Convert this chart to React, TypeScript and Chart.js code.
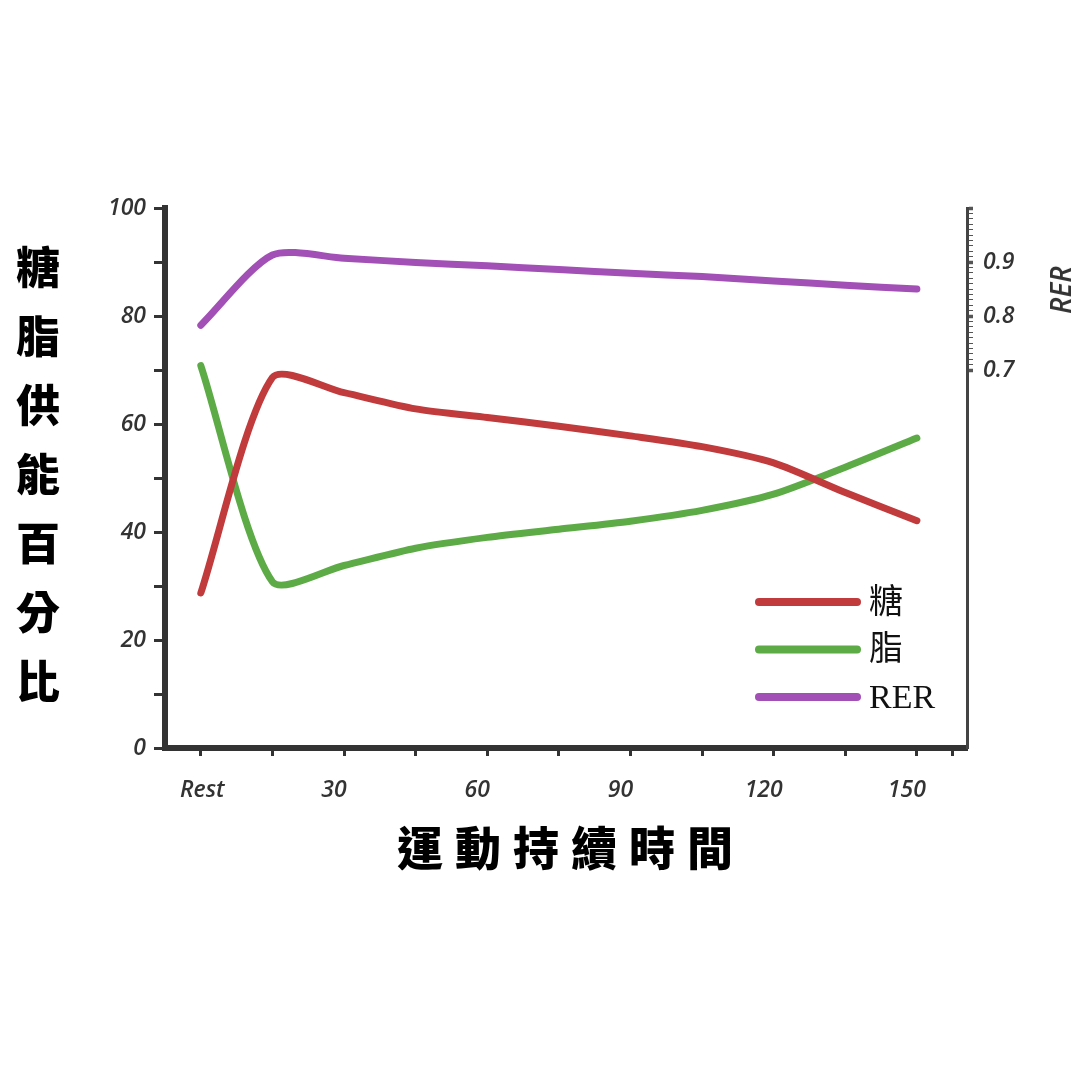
import React, { useEffect, useRef } from "react";
import { Chart, registerables } from "chart.js";

Chart.register(...registerables);

// ---- data ----
const minutes = [0, 15, 30, 45, 60, 75, 90, 105, 120, 135, 150];
const sugar = [28.7, 68.6, 65.8, 62.8, 61.2, 59.6, 57.8, 55.8, 52.8, 47.3, 42.1];
const fat = [70.8, 30.8, 33.8, 37, 39, 40.5, 42, 44, 47, 52, 57.4];
const rer = [0.783, 0.913, 0.907, 0.899, 0.893, 0.886, 0.879, 0.873, 0.865, 0.857, 0.85];
const seriesLabels = ["糖", "脂", "RER"];
const xTickValues = [0, 15, 30, 45, 60, 75, 90, 105, 120, 135, 150, 157.5];
const xTickLabels: Record<number, string> = { 0: "\u2003Rest", 30: "30", 60: "60", 90: "90", 120: "120", 150: "150" };
const leftTickLabels = [0, 20, 40, 60, 80, 100];
const rightTickLabels = [0.7, 0.8, 0.9];

const COLORS = ["#c13a3c", "#5cab46", "#a24fb6"];

const tickFont = { family: "'Open Sans', 'DejaVu Sans', sans-serif", size: 23, style: "italic" as const, weight: "600" as const };

const legendPlugin = {
  id: "insideLegend",
  afterDraw(chart: any) {
    const ctx = chart.ctx;
    ctx.save();
    chart.data.datasets.forEach((ds: any, i: number) => {
      const y = 602 + i * 47.5;
      ctx.strokeStyle = ds.borderColor;
      ctx.lineWidth = 8;
      ctx.lineCap = "round";
      ctx.beginPath();
      ctx.moveTo(759, y);
      ctx.lineTo(857, y);
      ctx.stroke();
      ctx.fillStyle = "#111";
      ctx.font = "34px 'Liberation Serif', 'Noto Sans CJK TC', serif";
      ctx.textBaseline = "middle";
      ctx.textAlign = "left";
      ctx.fillText(ds.label, 869, y + 2);
    });
    ctx.restore();
  },
};

export default function App() {
  const ref = useRef<HTMLCanvasElement | null>(null);
  useEffect(() => {
    if (!ref.current) return;
    const chart = new Chart(ref.current, {
      type: "line",
      data: {
        datasets: [
          {
            label: seriesLabels[0],
            data: minutes.map((m, i) => ({ x: m, y: sugar[i] })),
            borderColor: COLORS[0],
            yAxisID: "y",
          },
          {
            label: seriesLabels[1],
            data: minutes.map((m, i) => ({ x: m, y: fat[i] })),
            borderColor: COLORS[1],
            yAxisID: "y",
          },
          {
            label: seriesLabels[2],
            data: minutes.map((m, i) => ({ x: m, y: rer[i] })),
            borderColor: COLORS[2],
            yAxisID: "y1",
          },
        ],
      },
      options: {
        responsive: false,
        animation: false,
        layout: { padding: { top: 208, left: 0, right: 0, bottom: 0 } },
        elements: {
          line: { borderWidth: 7, tension: 0.25, borderCapStyle: "round", borderJoinStyle: "round", fill: false },
          point: { radius: 0 },
        },
        plugins: { legend: { display: false }, tooltip: { enabled: false }, title: { display: false } },
        scales: {
          x: {
            type: "linear",
            min: -7.5,
            max: 160.5,
            afterBuildTicks: (s: any) => {
              s.ticks = xTickValues.map((v) => ({ value: v }));
            },
            afterFit: (s: any) => {
              s.height = 1080 - 748;
            },
            ticks: {
              autoSkip: false,
              maxRotation: 0,
              font: tickFont,
              color: "#333",
              padding: 21,
              labelOffset: -10,
              callback: (v: any) => xTickLabels[v as number] ?? "",
            },
            grid: { drawOnChartArea: false, drawTicks: true, tickLength: 8, tickWidth: 3, tickColor: "#333" },
            border: { display: true, width: 6, color: "#333" },
          },
          y: {
            type: "linear",
            position: "left",
            min: 0,
            max: 100,
            afterBuildTicks: (s: any) => {
              const t = [];
              for (let v = 0; v <= 100; v += 10) t.push({ value: v });
              s.ticks = t;
            },
            afterFit: (s: any) => {
              s.width = 165;
            },
            ticks: {
              autoSkip: false,
              font: tickFont,
              color: "#333",
              padding: 8,
              callback: (v: any) => (leftTickLabels.includes(v as number) ? String(v) : ""),
            },
            grid: { drawOnChartArea: false, drawTicks: true, tickLength: 11, tickWidth: 3, tickColor: "#333" },
            border: { display: true, width: 6, color: "#333" },
          },
          y1: {
            type: "linear",
            position: "right",
            min: 0,
            max: 1,
            afterBuildTicks: (s: any) => {
              const t = [];
              for (let k = 70; k <= 100; k += 1) t.push({ value: k / 100 });
              s.ticks = t;
            },
            afterFit: (s: any) => {
              s.width = 1080 - 967;
            },
            ticks: {
              autoSkip: false,
              font: tickFont,
              color: "#333",
              padding: 10,
              callback: (v: any) => {
                const r = Math.round((v as number) * 100) / 100;
                return rightTickLabels.includes(r) ? r.toFixed(1) : "";
              },
            },
            grid: {
              drawOnChartArea: false,
              drawTicks: true,
              tickLength: 6,
              tickWidth: (c: any) => {
                const r = Math.round(c.tick.value * 100);
                return r % 10 === 0 ? 3.5 : 1;
              },
              tickColor: "#555",
            },
            border: { display: true, width: 3, color: "#444" },
          },
        },
      },
      plugins: [legendPlugin],
    } as any);
    return () => chart.destroy();
  }, []);

  const cjk = "'Noto Sans CJK TC', 'Noto Sans CJK SC', sans-serif";
  return (
    <div style={{ position: "absolute", left: 0, top: 0, width: 1080, height: 1080, background: "#fff", overflow: "hidden" }}>
      <canvas ref={ref} width={1080} height={1080} style={{ position: "absolute", left: 0, top: 0, width: 1080, height: 1080 }} />
      <div
        style={{
          position: "absolute",
          left: 14,
          top: 231,
          width: 48,
          fontFamily: cjk,
          fontWeight: 900,
          fontSize: 44,
          lineHeight: "69px",
          textAlign: "center",
          color: "#000",
          wordBreak: "break-all",
        }}
      >
        糖脂供能百分比
      </div>
      <div
        style={{
          position: "absolute",
          left: 300,
          width: 530,
          top: 815,
          fontFamily: cjk,
          fontWeight: 900,
          fontSize: 46,
          lineHeight: "60px",
          letterSpacing: "12px",
          textAlign: "center",
          color: "#000",
        }}
      >
        <span style={{ marginRight: -12 }}>運動持續時間</span>
      </div>
      <div
        style={{
          position: "absolute",
          left: 1060,
          top: 290,
          transform: "translate(-50%, -50%) rotate(-90deg)",
          fontFamily: "'Open Sans', sans-serif",
          fontStyle: "italic",
          fontWeight: 600,
          fontSize: 28,
          color: "#333",
          whiteSpace: "nowrap",
        }}
      >
        RER
      </div>
    </div>
  );
}
